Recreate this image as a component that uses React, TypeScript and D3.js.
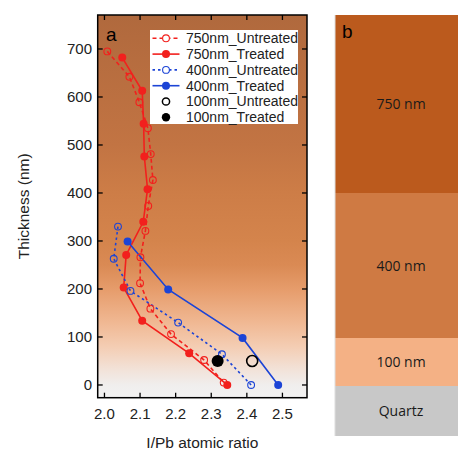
import React from "react";
import * as d3 from "d3";

type Pt = [number, number];

// I/Pb ratio, thickness (nm)
const untreated750: Pt[] = [
  [2.008, 695], [2.07, 642], [2.098, 589], [2.122, 535], [2.13, 481], [2.136, 427],
  [2.123, 373], [2.115, 321], [2.101, 266], [2.1, 212], [2.129, 159], [2.187, 106],
  [2.28, 52], [2.335, 5],
];
const treated750: Pt[] = [
  [2.05, 682], [2.106, 613], [2.11, 544], [2.112, 476], [2.121, 408], [2.109, 340],
  [2.061, 271], [2.054, 203], [2.106, 134], [2.238, 66], [2.345, 0],
];
const untreated400: Pt[] = [
  [2.038, 330], [2.026, 263], [2.073, 196], [2.207, 130], [2.33, 64], [2.412, 0],
];
const treated400: Pt[] = [
  [2.065, 299], [2.179, 199], [2.388, 98], [2.488, 0],
];
const untreated100: Pt[] = [[2.415, 50]];
const treated100: Pt[] = [[2.318, 50]];

const xTicks = [2.0, 2.1, 2.2, 2.3, 2.4, 2.5];
const yTicks = [0, 100, 200, 300, 400, 500, 600, 700];

const legendLabels = [
  "750nm_Untreated", "750nm_Treated", "400nm_Untreated",
  "400nm_Treated", "100nm_Untreated", "100nm_Treated",
];

const layerLabels = ["750 nm", "400 nm", "100 nm", "Quartz"];

const RED = "#f2201d";
const BLUE = "#1c44d6";

const gradStops: [number, string][] = [
  [770, "#b0693d"],
  [500, "#c27443"],
  [400, "#cd7d47"],
  [300, "#d4844c"],
  [250, "#da8a54"],
  [200, "#e69c6b"],
  [130, "#f0b893"],
  [80, "#f4cdb3"],
  [30, "#f2e3da"],
  [0, "#f0eeed"],
  [-27, "#f2f2f2"],
];

export default function App() {
  const L = 97.7, R = 307, T = 15, B = 397.7;
  const x = d3.scaleLinear().domain([1.981, 2.569]).range([L, R]);
  const y = d3.scaleLinear().domain([-26.5, 770.8]).range([B, T]);
  const line = d3.line<Pt>().x((d) => x(d[0])).y((d) => y(d[1]));
  const font = "'Liberation Sans', Arial, Helvetica, sans-serif";

  const series = [
    { data: untreated750, color: RED, dash: "4,3", open: true },
    { data: treated750, color: RED, dash: null, open: false },
    { data: untreated400, color: BLUE, dash: "2.5,3", open: true },
    { data: treated400, color: BLUE, dash: null, open: false },
  ];

  const bX = 335;
  const layerYs = [15, 193, 338, 386, 436];
  const layerColors = ["#bb5a1d", "#cf7a43", "#f4b185", "#c8c8c8"];

  const tickLen = 5;
  const legX = 150, legY = 30, legRow = 15.8;

  return (
    <svg width={458} height={450} style={{ position: "absolute", left: 0, top: 0 }}>
      <defs>
        <linearGradient id="bg" gradientUnits="userSpaceOnUse" x1={0} x2={0} y1={y(770.8)} y2={y(-26.5)}>
          {gradStops.map(([t, c], i) => (
            <stop key={i} offset={(y(t) - y(770.8)) / (y(-26.5) - y(770.8))} stopColor={c} />
          ))}
        </linearGradient>
        <clipPath id="clipA">
          <rect x={L} y={T} width={R - L} height={B - T} />
        </clipPath>
      </defs>
      <rect x={0} y={0} width={458} height={450} fill="#ffffff" />
      <rect x={L} y={T} width={R - L} height={B - T} fill="url(#bg)" />

      <g clipPath="url(#clipA)">
        {series.map((s, i) => (
          <path key={"l" + i} d={line(s.data) || ""} fill="none" stroke={s.color}
            strokeWidth={1.6} strokeDasharray={s.dash || undefined} />
        ))}
        {series.map((s, i) =>
          s.data.map((d, j) => (
            <circle key={"m" + i + "-" + j} cx={x(d[0])} cy={y(d[1])} r={s.open ? 3.4 : 4}
              fill={s.open ? "none" : s.color} stroke={s.color} strokeWidth={s.open ? 1.1 : 0} />
          ))
        )}
        {untreated100.map((d, j) => (
          <circle key={"u1" + j} cx={x(d[0])} cy={y(d[1])} r={5.5} fill="none" stroke="#000" strokeWidth={1.6} />
        ))}
        {treated100.map((d, j) => (
          <circle key={"t1" + j} cx={x(d[0])} cy={y(d[1])} r={6} fill="#000" />
        ))}
      </g>

      {xTicks.map((t) => (
        <g key={"xt" + t}>
          <line x1={x(t)} x2={x(t)} y1={B} y2={B - tickLen} stroke="#000" strokeWidth={1.3} />
          <line x1={x(t)} x2={x(t)} y1={T} y2={T + tickLen} stroke="#000" strokeWidth={1.3} />
          <text x={x(t)} y={419} fontSize={15} fontFamily={font} textAnchor="middle" fill="#222">
            {t.toFixed(1)}
          </text>
        </g>
      ))}
      {yTicks.map((t) => (
        <g key={"yt" + t}>
          <line x1={L} x2={L + tickLen} y1={y(t)} y2={y(t)} stroke="#000" strokeWidth={1.3} />
          <line x1={R} x2={R - tickLen} y1={y(t)} y2={y(t)} stroke="#000" strokeWidth={1.3} />
          <text x={92} y={y(t) + 5.3} fontSize={15} fontFamily={font} textAnchor="end" fill="#222">
            {t}
          </text>
        </g>
      ))}
      <rect x={L} y={T} width={R - L} height={B - T} fill="none" stroke="#000" strokeWidth={1.5} />

      <text x={(L + R) / 2} y={448} fontSize={15.5} fontFamily={font} textAnchor="middle" fill="#222">
        I/Pb atomic ratio
      </text>
      <text transform={`translate(29,${(T + B) / 2}) rotate(-90)`} fontSize={15.5} fontFamily={font}
        textAnchor="middle" fill="#222">
        Thickness (nm)
      </text>
      <text x={106} y={41} fontSize={19} fontFamily={font} fill="#000">a</text>

      <rect x={legX} y={legY} width={148} height={94} fill="#ffffff" />
      {legendLabels.map((lab, i) => {
        const cy = legY + 8.3 + i * legRow;
        const isLine = i < 4;
        const s = series[i];
        return (
          <g key={"lg" + i}>
            {isLine && (
              <line x1={152.5} x2={179.5} y1={cy} y2={cy} stroke={s.color} strokeWidth={1.6}
                strokeDasharray={s.dash || undefined} />
            )}
            {isLine ? (
              <circle cx={166} cy={cy} r={s.open ? 3.4 : 4} fill={s.open ? "#fff" : s.color}
                stroke={s.color} strokeWidth={s.open ? 1.1 : 0} />
            ) : i === 4 ? (
              <circle cx={166} cy={cy} r={3.6} fill="none" stroke="#000" strokeWidth={1.5} />
            ) : (
              <circle cx={166} cy={cy} r={4.2} fill="#000" />
            )}
            <text x={186} y={cy + 4.8} fontSize={14} fontFamily={font} fill="#222">{lab}</text>
          </g>
        );
      })}

      {layerLabels.map((lab, i) => (
        <g key={"lb" + i}>
          <rect x={bX} y={layerYs[i]} width={140} height={layerYs[i + 1] - layerYs[i]} fill={layerColors[i]} />
          <text x={401} y={(layerYs[i] + layerYs[i + 1]) / 2 + 5} fontSize={14} fontFamily="'Open Sans', sans-serif"
            textAnchor="middle" fill="#1a1a1a">{lab}</text>
        </g>
      ))}
      <line x1={bX} x2={bX} y1={15} y2={436} stroke="#dddddd" strokeWidth={1} />
      <text x={342} y={38} fontSize={19} fontFamily={font} fill="#000">b</text>
    </svg>
  );
}
